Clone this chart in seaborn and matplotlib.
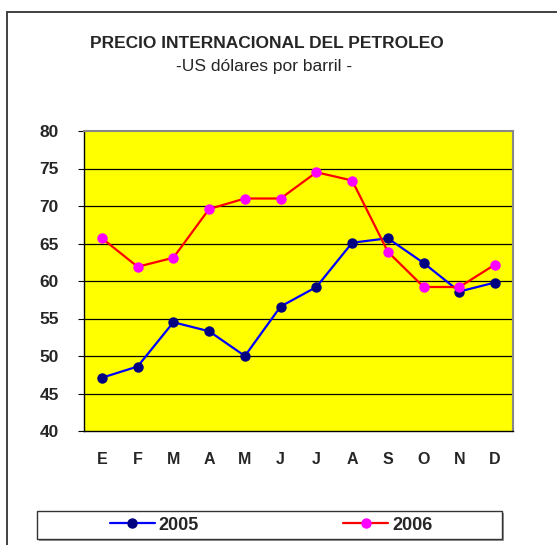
import numpy as np
import pandas as pd
import matplotlib
matplotlib.use('Agg')
import matplotlib.pyplot as plt
import seaborn as sns
from matplotlib.patches import Rectangle

meses = ['E', 'F', 'M', 'A', 'M', 'J', 'J', 'A', 'S', 'O', 'N', 'D']
precio_2005 = [47.1, 48.6, 54.5, 53.3, 50.0, 56.6, 59.2, 65.1, 65.7, 62.4, 58.6, 59.8]
precio_2006 = [65.7, 61.9, 63.1, 69.6, 71.0, 71.0, 74.5, 73.4, 63.9, 59.2, 59.2, 62.2]
y_ticks = [40, 45, 50, 55, 60, 65, 70, 75, 80]

df = pd.DataFrame({'pos': np.arange(len(meses)), '2005': precio_2005, '2006': precio_2006})

sns.set_style('white')
plt.rcParams['font.family'] = ['Liberation Sans', 'DejaVu Sans']

fig = plt.figure(figsize=(5.57, 5.45), dpi=100)
W, H = 557, 545
ax = fig.add_axes([84 / W, 1 - 431 / H, (513 - 84) / W, (431 - 131) / H])
ax.set_facecolor('#FFFF00')

# marco exterior
fig.patches.append(Rectangle((7 / W, -0.1), 1.2, 1 - 12 / H + 0.1, transform=fig.transFigure,
                             fill=False, edgecolor='#333333', linewidth=1.3))

for y in y_ticks[1:-1]:
    ax.axhline(y, color='black', linewidth=0.9, zorder=1)

sns.lineplot(data=df, x='pos', y='2005', ax=ax, color='#0000FF', linewidth=1.6,
             marker='o', markersize=7.5, markerfacecolor='#000080', markeredgewidth=0,
             label='2005', zorder=3)
sns.lineplot(data=df, x='pos', y='2006', ax=ax, color='#FF0000', linewidth=1.6,
             marker='o', markersize=7.5, markerfacecolor='#FF00FF', markeredgewidth=0,
             label='2006', zorder=3)

ax.set_xlim(-0.5, len(meses) - 0.5)
ax.set_ylim(40, 80)
ax.set_yticks(y_ticks)
ax.set_yticklabels([str(v) for v in y_ticks], fontsize=12.5, fontweight='bold')
ax.set_xticks(df['pos'])
ax.set_xticklabels(meses, fontsize=11.5, fontweight='bold')
ax.set_xticks(np.arange(-0.5, len(meses)), minor=True)
ax.tick_params(axis='x', which='major', length=0, pad=15)
ax.tick_params(axis='x', which='minor', length=4, direction='out', color='black')
ax.tick_params(axis='y', length=4, direction='out', color='black', pad=14, left=True)
ax.set_xlabel('')
ax.set_ylabel('')

for s in ['top', 'right']:
    ax.spines[s].set_color('#888888')
    ax.spines[s].set_linewidth(1.5)
for s in ['left', 'bottom']:
    ax.spines[s].set_color('black')
    ax.spines[s].set_linewidth(1.0)

ax.get_legend().remove()
handles, labels = ax.get_legend_handles_labels()

# caja de la leyenda con sombra
fig.patches.append(Rectangle((39 / W, 1 - 541 / H), (502 - 37) / W, (539 - 511) / H,
                             transform=fig.transFigure, facecolor='#999999', edgecolor='none'))
fig.patches.append(Rectangle((37 / W, 1 - 539 / H), (502 - 37) / W, (539 - 511) / H,
                             transform=fig.transFigure, facecolor='white', edgecolor='#333333',
                             linewidth=1.0))
fig.legend(handles, labels, loc='center', ncol=2, bbox_to_anchor=(271 / W, 1 - 525 / H),
           frameon=False, handlelength=2.5, handletextpad=0.2, columnspacing=8.0,
           borderaxespad=0, prop={'weight': 'bold', 'size': 13})

fig.text(267 / W, 1 - 44 / H, 'PRECIO INTERNACIONAL DEL PETROLEO', ha='center', va='center',
         fontsize=12.5, fontweight='bold')
fig.text(264 / W, 1 - 66 / H, '-US dólares por barril -', ha='center', va='center', fontsize=12.5)

fig.savefig('out.png', dpi=100, facecolor='white')
